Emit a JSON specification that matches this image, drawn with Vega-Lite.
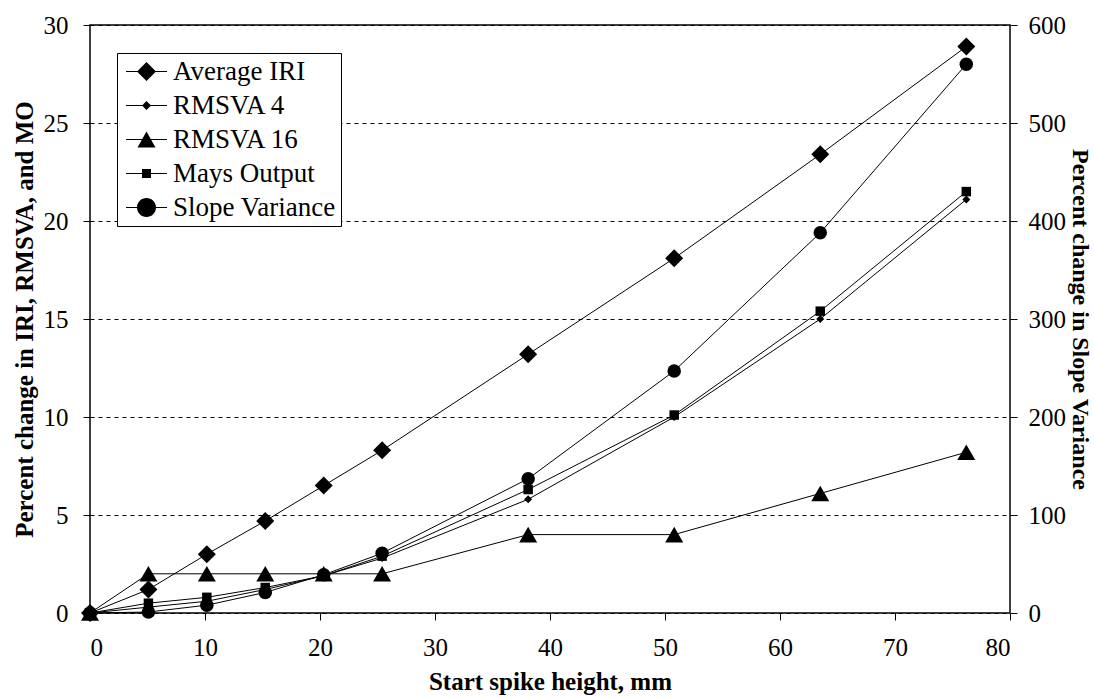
{
  "$schema": "https://vega.github.io/schema/vega-lite/v6.json",
  "width": 920,
  "height": 588,
  "autosize": {"type": "none"},
  "padding": {"left": 90, "top": 25, "right": 84, "bottom": 85},
  "background": "white",
  "config": {
    "view": {"stroke": "black", "strokeWidth": 1.5},
    "font": "Liberation Serif",
    "axis": {
      "labelFont": "Liberation Serif", "labelFontSize": 25, "labelColor": "black",
      "titleFont": "Liberation Serif", "titleFontSize": 25, "titleFontWeight": "bold", "titleColor": "black",
      "tickColor": "black", "tickSize": 7, "tickWidth": 1, "domain": false
    }
  },
  "data": {"values": [
    {"series": "Average IRI", "x": 0, "value": 0},
    {"series": "Average IRI", "x": 5.08, "value": 1.2},
    {"series": "Average IRI", "x": 10.16, "value": 3.0},
    {"series": "Average IRI", "x": 15.24, "value": 4.7},
    {"series": "Average IRI", "x": 20.32, "value": 6.5},
    {"series": "Average IRI", "x": 25.4, "value": 8.3},
    {"series": "Average IRI", "x": 38.1, "value": 13.2},
    {"series": "Average IRI", "x": 50.8, "value": 18.1},
    {"series": "Average IRI", "x": 63.5, "value": 23.4},
    {"series": "Average IRI", "x": 76.2, "value": 28.9},
    {"series": "RMSVA 4", "x": 0, "value": 0},
    {"series": "RMSVA 4", "x": 5.08, "value": 0.3},
    {"series": "RMSVA 4", "x": 10.16, "value": 0.6},
    {"series": "RMSVA 4", "x": 15.24, "value": 1.2},
    {"series": "RMSVA 4", "x": 20.32, "value": 1.9},
    {"series": "RMSVA 4", "x": 25.4, "value": 2.8},
    {"series": "RMSVA 4", "x": 38.1, "value": 5.8},
    {"series": "RMSVA 4", "x": 50.8, "value": 10.0},
    {"series": "RMSVA 4", "x": 63.5, "value": 15.0},
    {"series": "RMSVA 4", "x": 76.2, "value": 21.1},
    {"series": "RMSVA 16", "x": 0, "value": 0},
    {"series": "RMSVA 16", "x": 5.08, "value": 2.0},
    {"series": "RMSVA 16", "x": 10.16, "value": 2.0},
    {"series": "RMSVA 16", "x": 15.24, "value": 2.0},
    {"series": "RMSVA 16", "x": 20.32, "value": 2.0},
    {"series": "RMSVA 16", "x": 25.4, "value": 2.0},
    {"series": "RMSVA 16", "x": 38.1, "value": 4.0},
    {"series": "RMSVA 16", "x": 50.8, "value": 4.0},
    {"series": "RMSVA 16", "x": 63.5, "value": 6.1},
    {"series": "RMSVA 16", "x": 76.2, "value": 8.2},
    {"series": "Mays Output", "x": 0, "value": 0},
    {"series": "Mays Output", "x": 5.08, "value": 0.5},
    {"series": "Mays Output", "x": 10.16, "value": 0.8},
    {"series": "Mays Output", "x": 15.24, "value": 1.3},
    {"series": "Mays Output", "x": 20.32, "value": 1.9},
    {"series": "Mays Output", "x": 25.4, "value": 2.9},
    {"series": "Mays Output", "x": 38.1, "value": 6.3},
    {"series": "Mays Output", "x": 50.8, "value": 10.1},
    {"series": "Mays Output", "x": 63.5, "value": 15.4},
    {"series": "Mays Output", "x": 76.2, "value": 21.5},
    {"series": "Slope Variance", "x": 0, "value": 0},
    {"series": "Slope Variance", "x": 5.08, "value": 1},
    {"series": "Slope Variance", "x": 10.16, "value": 8},
    {"series": "Slope Variance", "x": 15.24, "value": 21},
    {"series": "Slope Variance", "x": 20.32, "value": 39},
    {"series": "Slope Variance", "x": 25.4, "value": 61},
    {"series": "Slope Variance", "x": 38.1, "value": 137},
    {"series": "Slope Variance", "x": 50.8, "value": 247},
    {"series": "Slope Variance", "x": 63.5, "value": 388},
    {"series": "Slope Variance", "x": 76.2, "value": 560}
  ]},
  "encoding": {
    "x": {
      "field": "x", "type": "quantitative",
      "scale": {"domain": [0, 80], "nice": false},
      "axis": {"values": [0, 10, 20, 30, 40, 50, 60, 70, 80], "title": "Start spike height, mm", "grid": false, "labelPadding": 15, "titlePadding": 9}
    }
  },
  "layer": [
    {
      "transform": [{"filter": "datum.series !== 'Slope Variance'"}],
      "encoding": {
        "y": {
          "field": "value", "type": "quantitative",
          "scale": {"domain": [0, 30], "nice": false},
          "axis": {"orient": "left", "values": [0, 5, 10, 15, 20, 25, 30], "title": "Percent change in IRI, RMSVA, and MO", "grid": true, "gridDash": [4, 4], "gridColor": "black", "gridWidth": 1, "gridOpacity": 1, "labelPadding": 15, "titlePadding": 6}
        }
      },
      "layer": [
        {"mark": {"type": "line", "color": "black", "strokeWidth": 1}, "encoding": {"detail": {"field": "series"}}},
        {
          "mark": {"type": "point", "filled": true, "color": "black", "opacity": 1},
          "encoding": {
            "shape": {
              "field": "series", "type": "nominal",
              "scale": {"domain": ["Average IRI", "RMSVA 4", "RMSVA 16", "Mays Output", "Slope Variance"], "range": ["diamond", "diamond", "triangle-up", "square", "circle"]},
              "legend": null
            },
            "size": {
              "field": "series", "type": "nominal",
              "scale": {"type": "ordinal", "domain": ["Average IRI", "RMSVA 4", "RMSVA 16", "Mays Output", "Slope Variance"], "range": [324, 64, 324, 90, 340]},
              "legend": null
            }
          }
        }
      ]
    },
    {
      "transform": [{"filter": "datum.series === 'Slope Variance'"}],
      "encoding": {
        "y": {
          "field": "value", "type": "quantitative",
          "scale": {"domain": [0, 600], "nice": false},
          "axis": {"orient": "right", "values": [0, 100, 200, 300, 400, 500, 600], "title": "Percent change in Slope Variance", "titleFontSize": 24, "grid": false, "labelPadding": 11, "titlePadding": 2}
        }
      },
      "layer": [
        {"mark": {"type": "line", "color": "black", "strokeWidth": 1}, "encoding": {"detail": {"field": "series"}}},
        {
          "mark": {"type": "point", "filled": true, "color": "black", "opacity": 1},
          "encoding": {
            "shape": {"field": "series", "type": "nominal", "scale": {"domain": ["Slope Variance"], "range": ["circle"]}, "legend": null},
            "size": {"field": "series", "type": "nominal", "legend": null}
          }
        }
      ]
    },
    {
      "transform": [{"filter": "datum.x > 1000"}],
      "mark": {"type": "point", "filled": true, "color": "black", "opacity": 1},
      "encoding": {
        "y": {"field": "value", "type": "quantitative", "scale": {"domain": [0, 30]}, "axis": null},
        "shape": {
          "field": "series", "type": "nominal",
          "scale": {
            "domain": ["Average IRI", "RMSVA 4", "RMSVA 16", "Mays Output", "Slope Variance"],
            "range": [
              "M-2.05,-0.05H2.05V0.05H-2.05ZM0,-0.95L0.95,0L0,0.95L-0.95,0Z",
              "M-2.05,-0.05H2.05V0.05H-2.05ZM0,-0.45L0.45,0L0,0.45L-0.45,0Z",
              "M-2.05,-0.05H2.05V0.05H-2.05ZM0,-0.8L0.9,0.8L-0.9,0.8Z",
              "M-2.05,-0.05H2.05V0.05H-2.05ZM-0.45,-0.45H0.45V0.45H-0.45Z",
              "M-2.05,-0.05H2.05V0.05H-2.05ZM0.95,0A0.95,0.95,0,1,1,-0.95,0A0.95,0.95,0,1,1,0.95,0Z"
            ]
          },
          "legend": {
            "title": null, "orient": "none", "legendX": 27, "legendY": 28,
            "labelFont": "Liberation Serif", "labelFontSize": 27, "labelColor": "black", "labelLimit": 400,
            "padding": 5, "strokeColor": "black", "fillColor": "white",
            "symbolSize": 400, "symbolOffset": 11, "labelOffset": 13, "rowPadding": 6,
            "symbolFillColor": "black", "symbolStrokeWidth": 0, "symbolOpacity": 1
          }
        }
      }
    }
  ],
  "resolve": {"scale": {"y": "independent", "shape": "independent"}}
}
